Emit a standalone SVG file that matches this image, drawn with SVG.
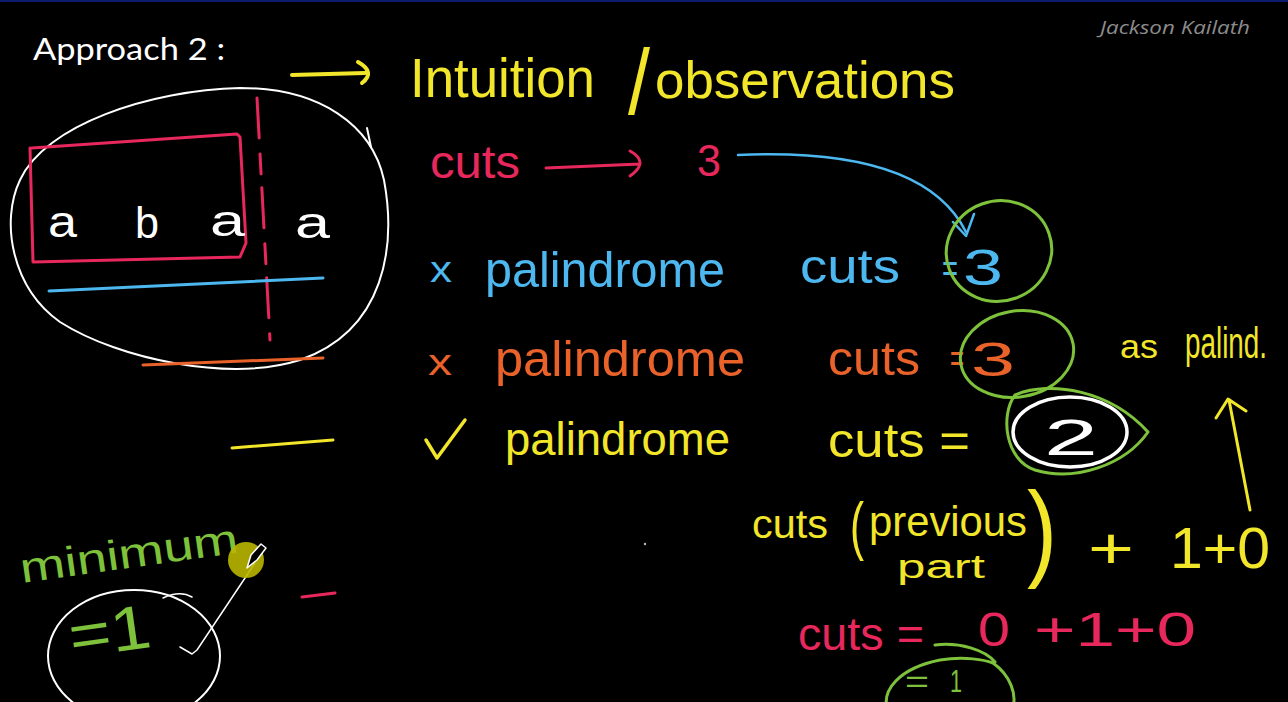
<svg xmlns="http://www.w3.org/2000/svg" width="1288" height="702" viewBox="0 0 1288 702">
<defs>
<style>
.hw{font-family:"Liberation Sans","DejaVu Sans",sans-serif;}
.ln{fill:none;stroke-linecap:round;stroke-linejoin:round;}
.y{fill:#f2e62b}.yS{stroke:#f2e62b}
.r{fill:#e8285c}.rS{stroke:#e8285c}
.b{fill:#4db7ef}.bS{stroke:#4db7ef}
.o{fill:#e8622a}.oS{stroke:#e8622a}
.g{fill:#7ec23c}.gS{stroke:#7ec23c}
.w{fill:#ffffff}.wS{stroke:#ffffff}
</style>
</defs>
<rect x="0" y="0" width="1288" height="702" fill="#000"/>
<rect x="0" y="0" width="1288" height="2" fill="#0c1c70"/>

<g id="header">
<text x="33" y="60" font-family="Lato,'Liberation Sans',sans-serif" font-size="30" fill="#fff" textLength="192" lengthAdjust="spacingAndGlyphs">Approach 2 :</text>
<text x="1100" y="34" font-family="'Open Sans','Liberation Sans',sans-serif" font-style="italic" font-size="19" fill="#8c8c8c" textLength="150" lengthAdjust="spacingAndGlyphs">Jackson Kailath</text>
</g>

<g id="title">
<path class="ln yS" stroke-width="4" d="M292,75 L365,73 M358,62 Q376,72 362,83"/>
<text class="hw y" x="410" y="97" font-size="56" textLength="185" lengthAdjust="spacingAndGlyphs">Intuition</text>
<text class="hw y" x="0" y="0" font-size="60" textLength="22" lengthAdjust="spacingAndGlyphs" transform="translate(628,114) scale(1,1.55)">/</text>
<text class="hw y" x="655" y="98" font-size="52" textLength="300" lengthAdjust="spacingAndGlyphs">observations</text>
</g>

<g id="string-diagram">
<path class="ln wS" stroke-width="2" d="M240,88 C320,88 372,125 384,180 C396,245 386,330 300,360 C230,382 120,360 60,322 C12,288 0,222 20,180 C45,125 150,90 240,88 Z"/>
<path class="ln wS" stroke-width="2" d="M367,128 L371,147"/>
<path class="ln rS" stroke-width="3" d="M32,148 L237,134 L240,137 L246,243 L240,257 L33,262 L30,148"/>
<text class="hw w" x="48" y="237" font-size="44" textLength="29" lengthAdjust="spacingAndGlyphs">a</text>
<text class="hw w" x="135" y="238" font-size="44" textLength="24" lengthAdjust="spacingAndGlyphs">b</text>
<text class="hw w" x="210" y="236" font-size="44" textLength="35" lengthAdjust="spacingAndGlyphs">a</text>
<text class="hw w" x="295" y="238" font-size="44" textLength="35" lengthAdjust="spacingAndGlyphs">a</text>
<path class="ln rS" stroke-width="3" stroke-dasharray="40 16 20 14" d="M257,98 L270,340"/>
<path class="ln bS" stroke-width="3" d="M49,291 L323,278"/>
<path class="ln oS" stroke-width="3" d="M143,365 L323,358"/>
<path class="ln yS" stroke-width="3" d="M232,448 L333,440"/>
<path class="ln rS" stroke-width="3" d="M302,597 L335,593"/>
</g>

<g id="row-cuts">
<text class="hw r" x="430" y="178" font-size="46" textLength="90" lengthAdjust="spacingAndGlyphs">cuts</text>
<path class="ln rS" stroke-width="3" d="M546,168 L640,164 M630,151 Q650,162 630,176"/>
<text class="hw r" x="697" y="176" font-size="44" textLength="24" lengthAdjust="spacingAndGlyphs">3</text>
</g>

<g id="connectors">
<path class="ln bS" stroke-width="2.5" d="M738,155 C850,150 935,170 966,232 M953,222 L966,236 L974,214"/>
<path class="ln yS" stroke-width="3" d="M1250,510 L1229,400 M1216,418 L1228,399 L1246,411"/>
<path class="ln wS" stroke-width="1.5" d="M255,563 L197,650 L192,654 L180,647"/>
</g>

<g id="row-blue">
<text class="hw b" x="430" y="282" font-size="36" textLength="22" lengthAdjust="spacingAndGlyphs">x</text>
<text class="hw b" x="485" y="287" font-size="50" textLength="240" lengthAdjust="spacingAndGlyphs">palindrome</text>
<text class="hw b" x="800" y="283" font-size="48" textLength="100" lengthAdjust="spacingAndGlyphs">cuts</text>
<text class="hw b" x="942" y="282" font-size="40" textLength="16" lengthAdjust="spacingAndGlyphs">=</text>
<text class="hw b" x="963" y="285" font-size="50" textLength="40" lengthAdjust="spacingAndGlyphs">3</text>
<ellipse class="ln gS" stroke-width="3" cx="999" cy="251" rx="53" ry="50" transform="rotate(-20 999 251)"/>
</g>

<g id="row-orange">
<text class="hw o" x="428" y="375" font-size="36" textLength="24" lengthAdjust="spacingAndGlyphs">x</text>
<text class="hw o" x="495" y="376" font-size="50" textLength="250" lengthAdjust="spacingAndGlyphs">palindrome</text>
<text class="hw o" x="828" y="375" font-size="48" textLength="92" lengthAdjust="spacingAndGlyphs">cuts</text>
<text class="hw o" x="950" y="372" font-size="40" textLength="14" lengthAdjust="spacingAndGlyphs">=</text>
<text class="hw o" x="971" y="376" font-size="48" textLength="44" lengthAdjust="spacingAndGlyphs">3</text>
<ellipse class="ln gS" stroke-width="3" cx="1017" cy="354" rx="57" ry="43" transform="rotate(-10 1017 354)"/>
<text class="hw y" x="1120" y="358" font-size="34" textLength="38" lengthAdjust="spacingAndGlyphs">as</text>
<text class="hw y" x="0" y="0" font-size="32" textLength="82" lengthAdjust="spacingAndGlyphs" transform="translate(1185,358) scale(1,1.4)">palind.</text>
</g>

<g id="row-yellow">
<path class="ln yS" stroke-width="3.5" d="M426,440 L437,458 L465,420"/>
<text class="hw y" x="505" y="455" font-size="46" textLength="225" lengthAdjust="spacingAndGlyphs">palindrome</text>
<text class="hw y" x="828" y="457" font-size="48" textLength="142" lengthAdjust="spacingAndGlyphs">cuts =</text>
<ellipse class="ln wS" stroke-width="3.5" cx="1070" cy="432" rx="57" ry="35"/>
<text class="hw w" x="1044" y="455" font-size="50" textLength="54" lengthAdjust="spacingAndGlyphs">2</text>
<path class="ln gS" stroke-width="3" d="M1015,395 C1050,380 1110,390 1148,432 C1125,465 1075,482 1035,470 C1005,460 1000,415 1015,395 Z"/>
</g>

<g id="formula">
<text class="hw y" x="752" y="538" font-size="40" textLength="76" lengthAdjust="spacingAndGlyphs">cuts</text>
<text class="hw y" x="0" y="0" font-size="50" textLength="14" lengthAdjust="spacingAndGlyphs" transform="translate(850,548) scale(1,1.3)">(</text>
<text class="hw y" x="869" y="536" font-size="42" textLength="158" lengthAdjust="spacingAndGlyphs">previous</text>
<text class="hw y" x="897" y="578" font-size="34" textLength="88" lengthAdjust="spacingAndGlyphs">part</text>
<text class="hw y" x="0" y="0" font-size="62" textLength="30" lengthAdjust="spacingAndGlyphs" transform="translate(1027,567) scale(1,1.75)">)</text>
<text class="hw y" font-size="58" y="568"><tspan x="1088" textLength="46" lengthAdjust="spacingAndGlyphs">+</tspan><tspan x="1170" textLength="100" lengthAdjust="spacingAndGlyphs">1+0</tspan></text>
<text class="hw r" x="798" y="650" font-size="46" textLength="126" lengthAdjust="spacingAndGlyphs">cuts =</text>
<text class="hw r" font-size="48" y="646"><tspan x="978" textLength="32" lengthAdjust="spacingAndGlyphs">0</tspan><tspan x="1034" textLength="162" lengthAdjust="spacingAndGlyphs">+1+0</tspan></text>
<text class="hw g" font-size="32" y="692"><tspan x="905" textLength="24" lengthAdjust="spacingAndGlyphs">=</tspan><tspan x="950" textLength="12" lengthAdjust="spacingAndGlyphs">1</tspan></text>
<path class="ln gS" stroke-width="3" d="M935,645 C960,642 985,650 995,662 M993,663 C1010,675 1018,695 1012,710 M888,712 C880,690 900,668 940,660 C965,656 985,660 993,663"/>
</g>

<g id="minimum">
<text class="hw g" x="22" y="583" font-size="42" textLength="220" lengthAdjust="spacingAndGlyphs" transform="rotate(-8 22 583)">minimum</text>
<ellipse class="ln wS" stroke-width="2" cx="134" cy="656" rx="86" ry="66"/>
<path class="ln wS" stroke-width="1.5" d="M163,598 Q180,590 192,597"/>
<text class="hw g" x="72" y="658" font-size="62" textLength="82" lengthAdjust="spacingAndGlyphs" transform="rotate(-8 72 658)">=1</text>
<circle cx="246" cy="560" r="18" fill="#b9b600" opacity="0.9"/>
<path d="M247,568 L251,555 L261,544 L266,548 L257,560 Z" fill="#000" stroke="#fff" stroke-width="1.5" stroke-linejoin="round"/>
<circle cx="645" cy="544" r="1.2" fill="#bbb"/>
</g>
</svg>
